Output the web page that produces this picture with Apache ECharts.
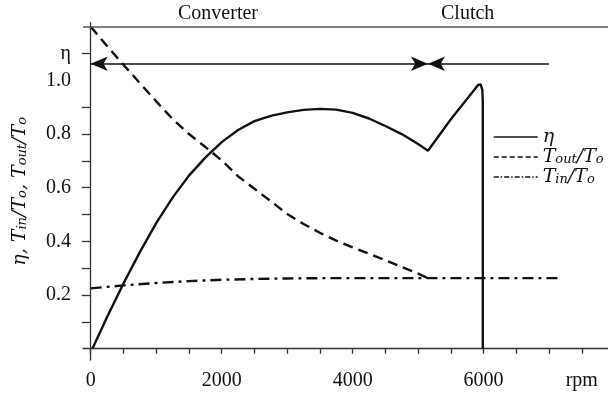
<!DOCTYPE html>
<html><head><meta charset="utf-8">
<script src="https://cdn.jsdelivr.net/npm/echarts@6/dist/echarts.min.js"></script>
<style>html,body{margin:0;padding:0;background:#fff}#c{width:608px;height:396px}</style>
</head><body><div id="c"></div>
<script>
// ---- data ----
const etaRpm = [25, 250, 500, 750, 1000, 1250, 1500, 1750, 2000, 2250, 2500, 2750, 3000, 3250, 3500, 3750, 4000, 4250, 4500, 4750, 5000, 5150, 5500, 5850, 5915, 5955, 5980, 5988, 5988];
const etaVal = [0, 0.118, 0.243, 0.36, 0.468, 0.563, 0.645, 0.712, 0.77, 0.815, 0.848, 0.868, 0.881, 0.89, 0.894, 0.891, 0.879, 0.858, 0.83, 0.8, 0.763, 0.738, 0.855, 0.962, 0.983, 0.985, 0.965, 0.92, 0];
const toutRpm = [0, 250, 500, 750, 1000, 1250, 1500, 1750, 2000, 2250, 2500, 2750, 3000, 3250, 3500, 3750, 4000, 4250, 4500, 4750, 5000, 5150];
const toutVal = [1.2, 1.128, 1.058, 0.99, 0.922, 0.856, 0.8, 0.752, 0.702, 0.643, 0.596, 0.55, 0.502, 0.465, 0.432, 0.403, 0.378, 0.354, 0.33, 0.305, 0.28, 0.263];
const tinRpm = [0, 500, 1000, 1500, 2000, 2500, 3000, 3500, 4000, 5150, 7150];
const tinVal = [0.225, 0.236, 0.245, 0.252, 0.257, 0.26, 0.262, 0.263, 0.263, 0.263, 0.263];
const seriesNames = ['η', 'Tout/To', 'Tin/To'];
const xTickValues = [0, 500, 1000, 1500, 2000, 2500, 3000, 3500, 4000, 4500, 5000, 5500, 6000, 6500, 7000, 7500];
const xLabelValues = [0, 2000, 4000, 6000, 7500];
const xLabelTexts = ['0', '2000', '4000', '6000', 'rpm'];
const yTickValues = [0.1, 0.2, 0.3, 0.4, 0.5, 0.6, 0.7, 0.8, 0.9, 1.1];
const yLabelValues = [0.2, 0.4, 0.6, 0.8, 1.0, 1.1];
const yLabelTexts = ['0.2', '0.4', '0.6', '0.8', '1.0', 'η'];
const regionLabels = ['Converter', 'Clutch'];
const arrowLevel = [1.062];
const arrowRpm = [0, 5150, 7000];   // start, meeting point, end
const topLevel = [1.2];

// ---- chart ----
const pair = (xs, ys) => xs.map((x, i) => [x, ys[i]]);
const SERIF = '"Liberation Serif", "DejaVu Serif", serif';
const MATH = '"DejaVu Serif", "Liberation Serif", serif';
const INK = '#111';
const lab = (vals, texts) => v => {
  const i = vals.findIndex(t => Math.abs(t - v) < 1e-6);
  return i < 0 ? '' : texts[i];
};
const rich = {
  i: { fontFamily: MATH, fontStyle: 'italic', fontSize: 19, color: INK, lineHeight: 18, verticalAlign: 'top' },
  s: { fontFamily: MATH, fontStyle: 'italic', fontSize: 13, color: INK, lineHeight: 12, verticalAlign: 'bottom', padding: [7, 0, 0, 0] }
};
const legendRich = {
  'η': '{i|η}',
  'Tout/To': '{i|T}{s|out}{i|/T}{s|o}',
  'Tin/To': '{i|T}{s|in}{i|/T}{s|o}'
};
const noMark = { color: 'transparent', borderColor: 'transparent', borderWidth: 0 };
const chart = echarts.init(document.getElementById('c'), null, { renderer: 'canvas' });
chart.setOption({
  animation: false,
  backgroundColor: '#fff',
  grid: { left: 83, right: 0, top: 22.7, bottom: 36, containLabel: false, outerBoundsMode: 'none' },
  xAxis: {
    type: 'value', min: -118, max: 7900,
    splitLine: { show: false },
    axisLine: { onZero: true, lineStyle: { color: '#333', width: 1.3 } },
    axisTick: { show: true, customValues: xTickValues, length: 5, lineStyle: { color: '#333', width: 1.3 } },
    axisLabel: { customValues: xLabelValues, formatter: lab(xLabelValues, xLabelTexts), margin: 11, fontFamily: SERIF, fontSize: 20, color: INK }
  },
  yAxis: {
    type: 'value', min: -0.042, max: 1.215,
    splitLine: { show: false },
    axisLine: { onZero: true, lineStyle: { color: '#333', width: 1.3 } },
    axisTick: { show: true, customValues: yTickValues, length: 9, lineStyle: { color: '#333', width: 1.3 } },
    axisLabel: { customValues: yLabelValues, formatter: lab(yLabelValues, yLabelTexts), margin: 12, fontFamily: SERIF, fontSize: 20, color: INK },
    name: '{i|η, T}{s|in}{i|/T}{s|o}{i|, T}{s|out}{i|/T}{s|o}',
    nameLocation: 'middle', nameRotate: 90, nameGap: 54,
    nameTextStyle: { rich: rich }
  },
  legend: {
    orient: 'vertical', left: 488, top: 123, itemWidth: 44, itemHeight: 14, itemGap: -1,
    data: [
      { name: seriesNames[0], lineStyle: { type: 'solid', width: 1.4 }, itemStyle: noMark },
      { name: seriesNames[1], lineStyle: { type: [5, 3], width: 1.4 }, itemStyle: noMark },
      { name: seriesNames[2], lineStyle: { type: [5, 2, 1.5, 2], width: 1.4 }, itemStyle: noMark }
    ],
    formatter: n => legendRich[n],
    textStyle: { rich: rich }
  },
  graphic: [
    { type: 'text', left: 178, top: 4, style: { text: regionLabels[0], font: '20px ' + SERIF, fill: INK } },
    { type: 'text', left: 441, top: 4, style: { text: regionLabels[1], font: '20px ' + SERIF, fill: INK } }
  ],
  series: [
    {
      name: seriesNames[0], type: 'line', data: pair(etaRpm, etaVal), symbol: 'none', smooth: false,
      lineStyle: { color: INK, width: 2.4, type: 'solid' }, itemStyle: { color: INK },
      markLine: {
        silent: true, animation: false, label: { show: false },
        lineStyle: { color: INK, width: 1.6, type: 'solid' },
        symbolSize: [11, 17],
        data: [
          [{ coord: [arrowRpm[0], arrowLevel[0]], symbol: 'arrow' }, { coord: [arrowRpm[1], arrowLevel[0]], symbol: 'arrow' }],
          [{ coord: [arrowRpm[1], arrowLevel[0]], symbol: 'arrow' }, { coord: [arrowRpm[2], arrowLevel[0]], symbol: 'none' }]
        ]
      }
    },
    {
      name: seriesNames[1], type: 'line', data: pair(toutRpm, toutVal), symbol: 'none',
      lineStyle: { color: INK, width: 2.4, type: [10, 6] }, itemStyle: { color: INK },
      markLine: {
        silent: true, animation: false, label: { show: false }, symbol: 'none',
        lineStyle: { color: '#555', width: 1.5, type: 'solid' },
        data: [{ yAxis: topLevel[0] }]
      }
    },
    {
      name: seriesNames[2], type: 'line', data: pair(tinRpm, tinVal), symbol: 'none',
      lineStyle: { color: INK, width: 2.4, type: [11, 5, 3, 5] }, itemStyle: { color: INK }
    }
  ]
});
</script></body></html>
